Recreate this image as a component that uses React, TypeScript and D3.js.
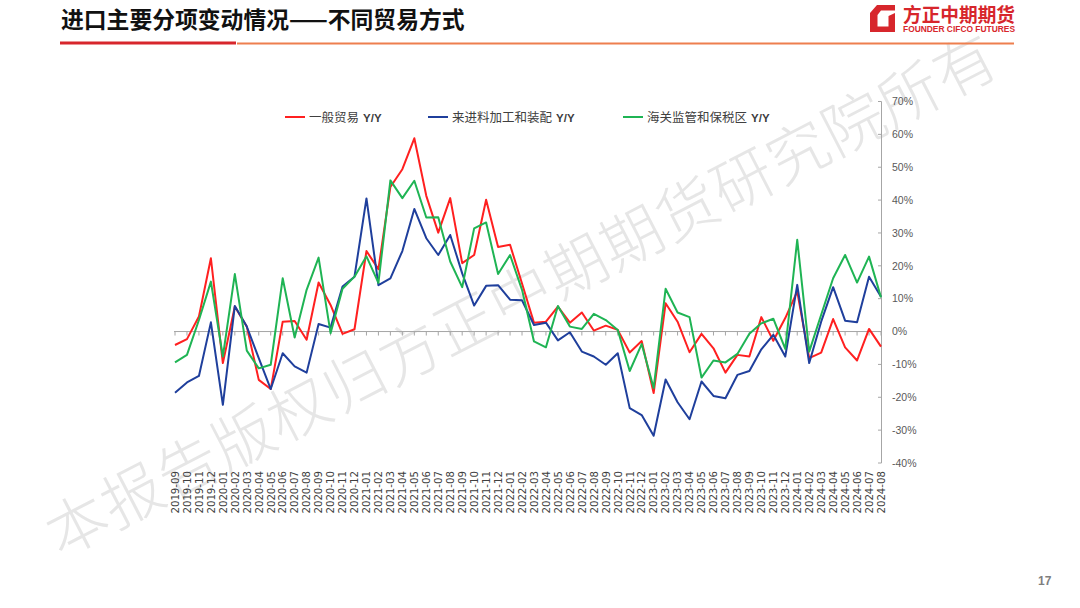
import React from "react";
import * as d3 from "d3";

const months: string[] = [
  "2019-09","2019-10","2019-11","2019-12",
  "2020-01","2020-02","2020-03","2020-04","2020-05","2020-06","2020-07","2020-08","2020-09","2020-10","2020-11","2020-12",
  "2021-01","2021-02","2021-03","2021-04","2021-05","2021-06","2021-07","2021-08","2021-09","2021-10","2021-11","2021-12",
  "2022-01","2022-02","2022-03","2022-04","2022-05","2022-06","2022-07","2022-08","2022-09","2022-10","2022-11","2022-12",
  "2023-01","2023-02","2023-03","2023-04","2023-05","2023-06","2023-07","2023-08","2023-09","2023-10","2023-11","2023-12",
  "2024-01","2024-02","2024-03","2024-04","2024-05","2024-06","2024-07","2024-08",
];

const generalTrade: number[] = [
  -4.1, -2.3, 4.6, 22.3, -9.6, 7.6, 1.5, -14.7, -17.5, 3.0, 3.2, -2.5, 14.9, 8.1, -0.7, 0.7,
  24.5, 19.0, 44.0, 49.4, 58.8, 41.3, 30.1, 40.6, 20.8, 23.3, 40.1, 25.7,
  26.4, 14.6, 2.7, 3.0, 7.6, 2.7, 5.8, 0.3, 1.8, 0.5, -6.4, -2.9,
  -18.7, 8.6, 3.0, -6.3, -0.7, -5.1, -12.5, -7.1, -7.6, 4.4, -2.8, 4.1,
  12.2, -8.1, -6.4, 3.8, -4.8, -8.8, 0.8, -4.6,
];

const processingTrade: number[] = [
  -18.6, -15.5, -13.5, 2.8, -22.3, 7.8, 1.5, -8.1, -17.5, -6.6, -10.6, -12.5, 2.3, 1.2, 13.7, 16.7,
  40.5, 14.1, 16.2, 24.5, 37.3, 28.4, 23.3, 29.4, 17.7, 7.9, 13.9, 14.1,
  9.7, 9.5, 2.0, 2.7, -2.7, -0.2, -6.1, -7.6, -10.1, -6.6, -23.3, -25.4,
  -31.7, -14.6, -21.5, -26.7, -15.2, -19.6, -20.3, -13.2, -12.0, -5.4, -1.0, -7.6,
  14.2, -9.6, 3.0, 13.5, 3.3, 2.8, 16.7, 10.6,
];

const bondedTrade: number[] = [
  -9.4, -7.1, 3.5, 15.2, -7.6, 17.5, -5.8, -11.2, -10.1, 16.2, -1.8, 12.7, 22.5, -0.5, 13.0, 16.7,
  22.9, 14.8, 46.0, 40.6, 45.9, 34.7, 34.8, 21.3, 13.5, 31.4, 33.2, 17.5,
  23.3, 12.7, -3.0, -4.8, 7.8, 1.5, 0.8, 5.4, 3.5, 0.5, -12.0, -3.8,
  -17.2, 13.0, 5.8, 4.4, -14.0, -8.8, -9.4, -6.8, -0.7, 2.5, 3.9, -5.3,
  27.9, -6.1, 5.1, 16.2, 23.3, 14.9, 22.8, 10.4,
];

const yTicks: number[] = [70, 60, 50, 40, 30, 20, 10, 0, -10, -20, -30, -40];

const seriesNames: string[] = ["一般贸易", "来进料加工和装配", "海关监管和保税区"];
const seriesColors: string[] = ["#FF2020", "#1F3F9C", "#1FB454"];

const W = 1080;
const H = 608;

export default function App() {
  const x = d3.scalePoint<string>().domain(months).range([175, 881]);
  const y = d3.scaleLinear().domain([-40, 70]).range([463, 101.5]);

  const lineGen = d3
    .line<number>()
    .x((_, i) => x(months[i]) as number)
    .y((d) => y(d));

  const allSeries = [generalTrade, processingTrade, bondedTrade];
  const legendX = [285, 428, 623];
  const sansCJK = "'Noto Sans CJK SC', 'Noto Sans', sans-serif";
  const axisFont = "'Liberation Sans', Arial, sans-serif";
  const tickFont = "'DejaVu Sans', Verdana, sans-serif";

  return (
    <svg
      width={W}
      height={H}
      viewBox={`0 0 ${W} ${H}`}
      style={{ position: "absolute", left: 0, top: 0, background: "#fff" }}
    >
      <rect x={0} y={0} width={W} height={H} fill="#fff" />

      {/* watermark */}
      <text
        x={0}
        y={0}
        transform="translate(60,558) rotate(-27.3)"
        fontFamily={sansCJK}
        fontWeight={300}
        fontSize={61}
        fill="#e6e6e6"
        textLength={1060}
        lengthAdjust="spacing"
      >
        本报告版权归方正中期期货研究院所有
      </text>

      {/* header */}
      <text x={61} y={28} fontFamily={sansCJK} fontWeight={700} fontSize={22.8} fill="#111">
        进口主要分项变动情况——不同贸易方式
      </text>
      <rect x={60} y={41.5} width={176} height={3} fill="#D7262C" />
      <rect x={237} y={42.5} width={777} height={2} fill="#EE7F4E" />

      {/* logo */}
      <path
        d="M877,5 L895,5 L895,10.5 L881,10.5 L877.5,15 L877.5,26.5 L888.5,26.5 L888.5,16 L895,13 L895,32 L870,32 L870,13 Z"
        fill="#D7262C"
      />
      <text
        x={903}
        y={22}
        fontFamily={sansCJK}
        fontWeight={700}
        fontSize={19}
        fill="#D7262C"
        textLength={112}
        lengthAdjust="spacingAndGlyphs"
      >
        方正中期期货
      </text>
      <text
        x={903}
        y={32.3}
        fontFamily={axisFont}
        fontWeight={700}
        fontSize={8.2}
        fill="#D7262C"
        textLength={112}
        lengthAdjust="spacingAndGlyphs"
      >
        FOUNDER CIFCO FUTURES
      </text>

      {/* zero axis line with ticks */}
      <line x1={174} x2={881} y1={y(0)} y2={y(0)} stroke="#A6A6A6" strokeWidth={1} />
      {months.map((m) => (
        <line
          key={"xt" + m}
          x1={x(m) as number}
          x2={x(m) as number}
          y1={y(0)}
          y2={y(0) + 4}
          stroke="#A6A6A6"
          strokeWidth={1}
        />
      ))}

      {/* right axis */}
      <line x1={881.5} x2={881.5} y1={y(70)} y2={y(-40)} stroke="#A6A6A6" strokeWidth={1} />
      {yTicks.map((t) => (
        <g key={"yt" + t}>
          <line x1={878} x2={881.5} y1={y(t)} y2={y(t)} stroke="#A6A6A6" strokeWidth={1} />
          <text
            x={892}
            y={y(t) + 3.8}
            fontFamily={axisFont}
            fontSize={10.5}
            fill="#595959"
          >
            {t + "%"}
          </text>
        </g>
      ))}

      {/* x labels */}
      {months.map((m) => (
        <text
          key={"xl" + m}
          transform={`translate(${(x(m) as number) + 3.8},471) rotate(-90)`}
          textAnchor="end"
          fontFamily={tickFont}
          fontSize={10.2}
          fill="#404040"
        >
          {m}
        </text>
      ))}

      {/* series lines */}
      {allSeries.map((s, k) => (
        <path
          key={"s" + k}
          d={lineGen(s) || ""}
          fill="none"
          stroke={seriesColors[k]}
          strokeWidth={2}
          strokeLinejoin="round"
        />
      ))}

      {/* legend */}
      {seriesNames.map((n, k) => (
        <g key={"lg" + k}>
          <line
            x1={legendX[k]}
            x2={legendX[k] + 20}
            y1={117}
            y2={117}
            stroke={seriesColors[k]}
            strokeWidth={2}
          />
          <text x={legendX[k] + 24} y={121.5} fontFamily={sansCJK} fontSize={12.5} fill="#404040">
            {n}
            <tspan fontFamily={axisFont} fontSize={11.5} fontWeight={700} dx={4}>
              Y/Y
            </tspan>
          </text>
        </g>
      ))}

      {/* page number */}
      <text x={1038} y={585} fontFamily={axisFont} fontWeight={700} fontSize={12} fill="#7F7F7F">
        17
      </text>
    </svg>
  );
}
